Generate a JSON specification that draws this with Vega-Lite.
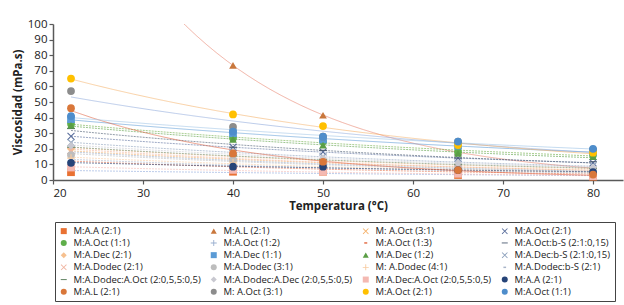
{
"$schema": "https://vega.github.io/schema/vega-lite/v6.json",
"autosize": "none",
"width": 570,
"height": 156,
"padding": {"left": 53, "top": 24, "right": 1, "bottom": 125},
"background": "white",
"config": {
  "font": "Liberation Sans Narrow, Open Sans, sans-serif",
  "view": {"stroke": null},
  "axis": {"grid": false, "domainColor": "#595959", "domainWidth": 1.5, "tickColor": "#595959", "tickWidth": 1.2, "tickSize": 4, "labelColor": "#222", "labelFontSize": 11.5, "titleFontSize": 11.5, "titleFontWeight": "bold", "titleColor": "#222"}
},
"datasets": {
  "pts": [
    {"s":"M:A.A (2:1)","t":22,"v":5},{"s":"M:A.A (2:1)","t":40,"v":5.3},{"s":"M:A.A (2:1)","t":50,"v":5.3},{"s":"M:A.A (2:1)","t":65,"v":3.2},{"s":"M:A.A (2:1)","t":80,"v":2.1},
    {"s":"M:A.L (2:1)","t":40,"v":73.5},{"s":"M:A.L (2:1)","t":50,"v":41.5},{"s":"M:A.L (2:1)","t":65,"v":18},{"s":"M:A.L (2:1)","t":80,"v":7.5},
    {"s":"M: A.Oct (3:1)","t":22,"v":18},{"s":"M: A.Oct (3:1)","t":40,"v":14},{"s":"M: A.Oct (3:1)","t":50,"v":11.5},{"s":"M: A.Oct (3:1)","t":65,"v":8},{"s":"M: A.Oct (3:1)","t":80,"v":6},
    {"s":"M:A.Oct (2:1)","t":22,"v":28},{"s":"M:A.Oct (2:1)","t":40,"v":21},{"s":"M:A.Oct (2:1)","t":50,"v":18},{"s":"M:A.Oct (2:1)","t":65,"v":14},{"s":"M:A.Oct (2:1)","t":80,"v":11},
    {"s":"M:A.Oct (1:1)","t":22,"v":36},{"s":"M:A.Oct (1:1)","t":40,"v":27},{"s":"M:A.Oct (1:1)","t":50,"v":24.6},{"s":"M:A.Oct (1:1)","t":65,"v":18},{"s":"M:A.Oct (1:1)","t":80,"v":16},
    {"s":"M:A.Oct (1:2)","t":22,"v":17},{"s":"M:A.Oct (1:2)","t":40,"v":13.5},{"s":"M:A.Oct (1:2)","t":50,"v":11},{"s":"M:A.Oct (1:2)","t":65,"v":7.5},{"s":"M:A.Oct (1:2)","t":80,"v":5},
    {"s":"M:A.Oct (1:3)","t":22,"v":11.5},{"s":"M:A.Oct (1:3)","t":40,"v":9},{"s":"M:A.Oct (1:3)","t":50,"v":7.5},{"s":"M:A.Oct (1:3)","t":65,"v":5},{"s":"M:A.Oct (1:3)","t":80,"v":3.5},
    {"s":"M:A.Oct:b-S (2:1:0,15)","t":22,"v":33},{"s":"M:A.Oct:b-S (2:1:0,15)","t":40,"v":21},{"s":"M:A.Oct:b-S (2:1:0,15)","t":50,"v":19},{"s":"M:A.Oct:b-S (2:1:0,15)","t":65,"v":14},{"s":"M:A.Oct:b-S (2:1:0,15)","t":80,"v":11.7},
    {"s":"M:A.Dec (2:1)","t":22,"v":20},{"s":"M:A.Dec (2:1)","t":40,"v":16},{"s":"M:A.Dec (2:1)","t":50,"v":13},{"s":"M:A.Dec (2:1)","t":65,"v":9},{"s":"M:A.Dec (2:1)","t":80,"v":7},
    {"s":"M:A.Dec (1:1)","t":22,"v":39},{"s":"M:A.Dec (1:1)","t":40,"v":30},{"s":"M:A.Dec (1:1)","t":50,"v":26},{"s":"M:A.Dec (1:1)","t":65,"v":22},{"s":"M:A.Dec (1:1)","t":80,"v":18},
    {"s":"M:A.Dec (1:2)","t":22,"v":35},{"s":"M:A.Dec (1:2)","t":40,"v":26},{"s":"M:A.Dec (1:2)","t":50,"v":22.4},{"s":"M:A.Dec (1:2)","t":65,"v":17},{"s":"M:A.Dec (1:2)","t":80,"v":15},
    {"s":"M:A.Dec:b-S (2:1:0,15)","t":22,"v":24},{"s":"M:A.Dec:b-S (2:1:0,15)","t":40,"v":18},{"s":"M:A.Dec:b-S (2:1:0,15)","t":50,"v":15},{"s":"M:A.Dec:b-S (2:1:0,15)","t":65,"v":11},{"s":"M:A.Dec:b-S (2:1:0,15)","t":80,"v":9},
    {"s":"M:A.Dodec (2:1)","t":22,"v":19},{"s":"M:A.Dodec (2:1)","t":40,"v":15},{"s":"M:A.Dodec (2:1)","t":50,"v":11.7},{"s":"M:A.Dodec (2:1)","t":65,"v":8},{"s":"M:A.Dodec (2:1)","t":80,"v":6},
    {"s":"M:A.Dodec (3:1)","t":22,"v":16},{"s":"M:A.Dodec (3:1)","t":40,"v":13},{"s":"M:A.Dodec (3:1)","t":50,"v":10},{"s":"M:A.Dodec (3:1)","t":65,"v":7},{"s":"M:A.Dodec (3:1)","t":80,"v":5},
    {"s":"M: A.Dodec (4:1)","t":22,"v":14},{"s":"M: A.Dodec (4:1)","t":40,"v":11},{"s":"M: A.Dodec (4:1)","t":50,"v":9},{"s":"M: A.Dodec (4:1)","t":65,"v":6.4},{"s":"M: A.Dodec (4:1)","t":80,"v":4.5},
    {"s":"M:A.Dodec:b-S (2:1)","t":22,"v":12.5},{"s":"M:A.Dodec:b-S (2:1)","t":40,"v":10},{"s":"M:A.Dodec:b-S (2:1)","t":50,"v":8.5},{"s":"M:A.Dodec:b-S (2:1)","t":65,"v":6},{"s":"M:A.Dodec:b-S (2:1)","t":80,"v":4},
    {"s":"M:A.Dodec:A.Oct (2:0,5,5:0,5)","t":22,"v":21},{"s":"M:A.Dodec:A.Oct (2:0,5,5:0,5)","t":40,"v":15.5},{"s":"M:A.Dodec:A.Oct (2:0,5,5:0,5)","t":50,"v":13},{"s":"M:A.Dodec:A.Oct (2:0,5,5:0,5)","t":65,"v":10},{"s":"M:A.Dodec:A.Oct (2:0,5,5:0,5)","t":80,"v":7.5},
    {"s":"M:A.Dodec:A.Dec (2:0,5,5:0,5)","t":22,"v":22},{"s":"M:A.Dodec:A.Dec (2:0,5,5:0,5)","t":40,"v":17},{"s":"M:A.Dodec:A.Dec (2:0,5,5:0,5)","t":50,"v":14},{"s":"M:A.Dodec:A.Dec (2:0,5,5:0,5)","t":65,"v":10.8},{"s":"M:A.Dodec:A.Dec (2:0,5,5:0,5)","t":80,"v":8},
    {"s":"M:A.Dec:A.Oct (2:0,5,5:0,5)","t":22,"v":8},{"s":"M:A.Dec:A.Oct (2:0,5,5:0,5)","t":40,"v":6.5},{"s":"M:A.Dec:A.Oct (2:0,5,5:0,5)","t":50,"v":5.3},{"s":"M:A.Dec:A.Oct (2:0,5,5:0,5)","t":65,"v":4},{"s":"M:A.Dec:A.Oct (2:0,5,5:0,5)","t":80,"v":2.5},
    {"s":"M:A.A (2:1) ","t":22,"v":11},{"s":"M:A.A (2:1) ","t":40,"v":8.5},{"s":"M:A.A (2:1) ","t":50,"v":8.5},{"s":"M:A.A (2:1) ","t":65,"v":6.4},{"s":"M:A.A (2:1) ","t":80,"v":5},
    {"s":"M:A.L (2:1) ","t":22,"v":46},{"s":"M:A.L (2:1) ","t":40,"v":17},{"s":"M:A.L (2:1) ","t":50,"v":11.7},{"s":"M:A.L (2:1) ","t":65,"v":6.4},{"s":"M:A.L (2:1) ","t":80,"v":3.5},
    {"s":"M: A.Oct (3:1) ","t":22,"v":57},{"s":"M: A.Oct (3:1) ","t":40,"v":34},{"s":"M: A.Oct (3:1) ","t":50,"v":27.8},{"s":"M: A.Oct (3:1) ","t":65,"v":24.6},{"s":"M: A.Oct (3:1) ","t":80,"v":19.5},
    {"s":"M:A.Oct (2:1) ","t":22,"v":65},{"s":"M:A.Oct (2:1) ","t":40,"v":42},{"s":"M:A.Oct (2:1) ","t":50,"v":34.6},{"s":"M:A.Oct (2:1) ","t":65,"v":22.4},{"s":"M:A.Oct (2:1) ","t":80,"v":17.5},
    {"s":"M:A.Oct (1:1) ","t":22,"v":41},{"s":"M:A.Oct (1:1) ","t":40,"v":31},{"s":"M:A.Oct (1:1) ","t":50,"v":27.8},{"s":"M:A.Oct (1:1) ","t":65,"v":24.6},{"s":"M:A.Oct (1:1) ","t":80,"v":20}
  ]
},
"data": {"name": "pts"},
"encoding": {
  "x": {"field": "t", "type": "quantitative", "scale": {"domain": [20, 83.33], "nice": false, "zero": false}, "axis": {"values": [20,30,40,50,60,70,80], "title": "Temperatura (°C)", "titlePadding": 2, "labelPadding": 3}},
  "y": {"field": "v", "type": "quantitative", "scale": {"domain": [0, 100], "nice": false}, "axis": {"values": [0,10,20,30,40,50,60,70,80,90,100], "title": "Viscosidad (mPa.s)", "titlePadding": 4, "labelPadding": 2}}
},
"layer": [
  {
    "transform": [{"regression": "v", "on": "t", "groupby": ["s"], "method": "exp", "extent": [22, 80]}],
    "mark": {"type": "line", "clip": true, "strokeWidth": 1, "opacity": 0.6},
    "encoding": {
      "stroke": {"field": "s", "type": "nominal", "legend": null, "scale": {
        "domain": ["M:A.A (2:1)","M:A.L (2:1)","M: A.Oct (3:1)","M:A.Oct (2:1)","M:A.Oct (1:1)","M:A.Oct (1:2)","M:A.Oct (1:3)","M:A.Oct:b-S (2:1:0,15)","M:A.Dec (2:1)","M:A.Dec (1:1)","M:A.Dec (1:2)","M:A.Dec:b-S (2:1:0,15)","M:A.Dodec (2:1)","M:A.Dodec (3:1)","M: A.Dodec (4:1)","M:A.Dodec:b-S (2:1)","M:A.Dodec:A.Oct (2:0,5,5:0,5)","M:A.Dodec:A.Dec (2:0,5,5:0,5)","M:A.Dec:A.Oct (2:0,5,5:0,5)","M:A.A (2:1) ","M:A.L (2:1) ","M: A.Oct (3:1) ","M:A.Oct (2:1) ","M:A.Oct (1:1) "],
        "range": ["#8faadc","#e8806a","#f5b26b","#5a6e9c","#70ad47","#9aafcf","#e4704a","#4a5a70","#f6c08f","#5b9bd5","#5a9e45","#8ca0bc","#f0b4a0","#bdbdbd","#f8cba0","#a8b4c8","#6e8e70","#c8c8d0","#f4b9b2","#264478","#e06040","#8faadc","#f5b26b","#9dc3e6"]}},
      "strokeDash": {"field": "s", "type": "nominal", "legend": null, "scale": {
        "domain": ["M:A.A (2:1)","M:A.L (2:1)","M: A.Oct (3:1)","M:A.Oct (2:1)","M:A.Oct (1:1)","M:A.Oct (1:2)","M:A.Oct (1:3)","M:A.Oct:b-S (2:1:0,15)","M:A.Dec (2:1)","M:A.Dec (1:1)","M:A.Dec (1:2)","M:A.Dec:b-S (2:1:0,15)","M:A.Dodec (2:1)","M:A.Dodec (3:1)","M: A.Dodec (4:1)","M:A.Dodec:b-S (2:1)","M:A.Dodec:A.Oct (2:0,5,5:0,5)","M:A.Dodec:A.Dec (2:0,5,5:0,5)","M:A.Dec:A.Oct (2:0,5,5:0,5)","M:A.A (2:1) ","M:A.L (2:1) ","M: A.Oct (3:1) ","M:A.Oct (2:1) ","M:A.Oct (1:1) "],
        "range": [[2,1],[1,0],[2,1],[2,1],[2,1],[2,1],[2,1],[2,1],[2,1],[1,0],[2,1],[2,1],[2,1],[2,1],[2,1],[2,1],[2,1],[2,1],[2,1],[2,1],[1,0],[1,0],[1,0],[1,0]]}}
    }
  },
  {
    "mark": {"type": "point", "filled": true, "opacity": 1, "size": 60},
    "encoding": {
      "color": {"field": "s", "type": "nominal", "title": null,
        "legend": {"orient": "none", "direction": "horizontal", "gridAlign": "each", "legendX": 2, "legendY": 198, "columns": 4, "strokeColor": "#444", "padding": 4, "labelFontSize": 9.5, "labelColor": "#222", "symbolSize": 36, "rowPadding": 1.2, "columnPadding": 8, "labelOffset": 5, "labelLimit": 200, "symbolStrokeWidth": 0},
        "scale": {
        "domain": ["M:A.A (2:1)","M:A.L (2:1)","M: A.Oct (3:1)","M:A.Oct (2:1)","M:A.Oct (1:1)","M:A.Oct (1:2)","M:A.Oct (1:3)","M:A.Oct:b-S (2:1:0,15)","M:A.Dec (2:1)","M:A.Dec (1:1)","M:A.Dec (1:2)","M:A.Dec:b-S (2:1:0,15)","M:A.Dodec (2:1)","M:A.Dodec (3:1)","M: A.Dodec (4:1)","M:A.Dodec:b-S (2:1)","M:A.Dodec:A.Oct (2:0,5,5:0,5)","M:A.Dodec:A.Dec (2:0,5,5:0,5)","M:A.Dec:A.Oct (2:0,5,5:0,5)","M:A.A (2:1) ","M:A.L (2:1) ","M: A.Oct (3:1) ","M:A.Oct (2:1) ","M:A.Oct (1:1) "],
        "range": ["#e97132","#c9773c","#f5b26b","#5a6e9c","#5fae4a","#9aafcf","#e4704a","#4a5a70","#f6c08f","#5b9bd5","#5a9e45","#8ca0bc","#f0b4a0","#bdbdbd","#f8cba0","#a8b4c8","#6e8e70","#c8c8d0","#f4b9b2","#264478","#d9773a","#8c8c8c","#ffc000","#4e8dcb"]}},
      "shape": {"field": "s", "type": "nominal", "title": null,
        "legend": {"orient": "none", "direction": "horizontal", "gridAlign": "each", "legendX": 2, "legendY": 198, "columns": 4, "strokeColor": "#444", "padding": 4, "labelFontSize": 9.5, "labelColor": "#222", "symbolSize": 36, "rowPadding": 1.2, "columnPadding": 8, "labelOffset": 5, "labelLimit": 200, "symbolStrokeWidth": 0},
        "scale": {
        "domain": ["M:A.A (2:1)","M:A.L (2:1)","M: A.Oct (3:1)","M:A.Oct (2:1)","M:A.Oct (1:1)","M:A.Oct (1:2)","M:A.Oct (1:3)","M:A.Oct:b-S (2:1:0,15)","M:A.Dec (2:1)","M:A.Dec (1:1)","M:A.Dec (1:2)","M:A.Dec:b-S (2:1:0,15)","M:A.Dodec (2:1)","M:A.Dodec (3:1)","M: A.Dodec (4:1)","M:A.Dodec:b-S (2:1)","M:A.Dodec:A.Oct (2:0,5,5:0,5)","M:A.Dodec:A.Dec (2:0,5,5:0,5)","M:A.Dec:A.Oct (2:0,5,5:0,5)","M:A.A (2:1) ","M:A.L (2:1) ","M: A.Oct (3:1) ","M:A.Oct (2:1) ","M:A.Oct (1:1) "],
        "range": ["square","triangle-up",
          "M-1,-0.8L-0.8,-1L0,-0.2L0.8,-1L1,-0.8L0.2,0L1,0.8L0.8,1L0,0.2L-0.8,1L-1,0.8L-0.2,0Z",
          "M-1,-0.8L-0.8,-1L0,-0.2L0.8,-1L1,-0.8L0.2,0L1,0.8L0.8,1L0,0.2L-0.8,1L-1,0.8L-0.2,0Z",
          "circle",
          "M-0.15,-1H0.15V-0.15H1V0.15H0.15V1H-0.15V0.15H-1V-0.15H-0.15Z",
          "M-0.5,-0.25H0.5V0.25H-0.5Z",
          "M-1,-0.15H1V0.15H-1Z",
          "diamond","square","triangle-up",
          "M-1,-0.8L-0.8,-1L0,-0.2L0.8,-1L1,-0.8L0.2,0L1,0.8L0.8,1L0,0.2L-0.8,1L-1,0.8L-0.2,0Z",
          "M-1,-0.8L-0.8,-1L0,-0.2L0.8,-1L1,-0.8L0.2,0L1,0.8L0.8,1L0,0.2L-0.8,1L-1,0.8L-0.2,0Z",
          "circle",
          "M-0.15,-1H0.15V-0.15H1V0.15H0.15V1H-0.15V0.15H-1V-0.15H-0.15Z",
          "M-0.45,-0.25H0.45V0.25H-0.45Z",
          "M-1,-0.18H1V0.18H-1Z",
          "diamond","square","circle","circle","circle","circle","circle"]}}
    }
  }
],
"resolve": {"legend": {"stroke": "independent", "strokeDash": "independent"}}
}
